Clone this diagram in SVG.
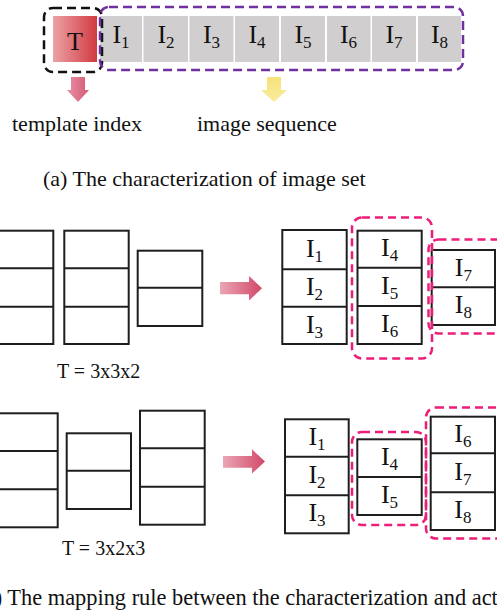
<svg xmlns="http://www.w3.org/2000/svg" width="497" height="613" viewBox="0 0 497 613" font-family="'Liberation Serif', 'Times New Roman', serif">
<defs>
<linearGradient id="gT" x1="0" y1="0" x2="1" y2="0"><stop offset="0" stop-color="#eba2a4"/><stop offset="1" stop-color="#d13a42"/></linearGradient>
<linearGradient id="gPink" x1="0" y1="0" x2="1" y2="0"><stop offset="0" stop-color="#eaa6b6"/><stop offset="1" stop-color="#d24868"/></linearGradient>
<linearGradient id="gPinkV" x1="0" y1="0" x2="1" y2="0"><stop offset="0" stop-color="#e88ea2"/><stop offset="1" stop-color="#d55a78"/></linearGradient>
<linearGradient id="gYel" x1="0" y1="0" x2="0" y2="1"><stop offset="0" stop-color="#f7e27a"/><stop offset="1" stop-color="#f9ec9c"/></linearGradient>
</defs>
<style>
text{fill:#111}
.cap{font-size:22px}
.capb{font-size:22.4px}
.lab{font-size:26px;text-anchor:middle}
.sub{font-size:17px}
.eq{font-size:20px}
.cell{fill:#d0cece}
.box{fill:#fff;stroke:#1e1e1e;stroke-width:2}
.ln{stroke:#1e1e1e;stroke-width:2}
.dk{fill:none;stroke:#111;stroke-width:2.5;stroke-dasharray:9 5}
.dp{fill:none;stroke:#7030a0;stroke-width:2.5;stroke-dasharray:9 5}
.dm{fill:none;stroke:#ec1e79;stroke-width:2.5;stroke-dasharray:8 5}
</style>

<!-- (a) characterization -->
<g id="template-cell">
<rect x="53" y="16" width="44" height="46" fill="url(#gT)"/>
<text class="lab" x="75" y="50">T</text>
</g>
<g id="image-cells">
<rect class="cell" x="100" y="16" width="42" height="46"/>
<rect class="cell" x="143.5" y="16" width="44.5" height="46"/>
<rect class="cell" x="189.5" y="16" width="44" height="46"/>
<rect class="cell" x="235" y="16" width="44" height="46"/>
<rect class="cell" x="281" y="16" width="44" height="46"/>
<rect class="cell" x="327" y="16" width="43.5" height="46"/>
<rect class="cell" x="372" y="16" width="44" height="46"/>
<rect class="cell" x="418" y="16" width="43" height="46"/>
<text class="lab" x="121" y="43">I<tspan class="sub" dy="4.5">1</tspan></text>
<text class="lab" x="166" y="43">I<tspan class="sub" dy="4.5">2</tspan></text>
<text class="lab" x="211.5" y="43">I<tspan class="sub" dy="4.5">3</tspan></text>
<text class="lab" x="257" y="43">I<tspan class="sub" dy="4.5">4</tspan></text>
<text class="lab" x="303" y="43">I<tspan class="sub" dy="4.5">5</tspan></text>
<text class="lab" x="348.5" y="43">I<tspan class="sub" dy="4.5">6</tspan></text>
<text class="lab" x="394" y="43">I<tspan class="sub" dy="4.5">7</tspan></text>
<text class="lab" x="439.5" y="43">I<tspan class="sub" dy="4.5">8</tspan></text>
</g>
<g id="frames-top">
<rect class="dk" x="44" y="8" width="58" height="64" rx="9"/>
<rect class="dp" x="100" y="7" width="363" height="63" rx="9"/>
</g>
<g id="down-arrows">
<path d="M71,77 H85 V90 H89 L78,102 L67,90 H71 Z" fill="url(#gPinkV)"/>
<path d="M267,77 H281 V90 H287 L274,102 L261,90 H267 Z" fill="url(#gYel)"/>
</g>
<g id="labels-top">
<text class="cap" x="12" y="131">template index</text>
<text class="cap" x="197" y="131">image sequence</text>
<text class="cap" x="43" y="186">(a) The characterization of image set</text>
</g>

<!-- (b) mapping, T = 3x3x2 -->
<g id="template-332">
<rect class="box" x="-11" y="230.7" width="64.3" height="113.3"/>
<line class="ln" x1="-11" y1="268.3" x2="53.3" y2="268.3"/>
<line class="ln" x1="-11" y1="306.7" x2="53.3" y2="306.7"/>
<rect class="box" x="64.3" y="230.7" width="64.4" height="113.3"/>
<line class="ln" x1="64.3" y1="268.3" x2="128.7" y2="268.3"/>
<line class="ln" x1="64.3" y1="306.7" x2="128.7" y2="306.7"/>
<rect class="box" x="137.7" y="250.7" width="64.6" height="75.3"/>
<line class="ln" x1="137.7" y1="287.7" x2="202.3" y2="287.7"/>
<text class="eq" x="57" y="378">T = 3x3x2</text>
</g>
<g id="mapped-332">
<rect class="box" x="282.3" y="230" width="64.4" height="114"/>
<line class="ln" x1="282.3" y1="269.3" x2="346.7" y2="269.3"/>
<line class="ln" x1="282.3" y1="306.7" x2="346.7" y2="306.7"/>
<rect class="box" x="357.5" y="230.7" width="64.2" height="113.3"/>
<line class="ln" x1="357.5" y1="267.7" x2="421.7" y2="267.7"/>
<line class="ln" x1="357.5" y1="306" x2="421.7" y2="306"/>
<rect class="box" x="431.7" y="250" width="63.3" height="75"/>
<line class="ln" x1="431.7" y1="287.3" x2="495" y2="287.3"/>
<text class="lab" x="314.5" y="257">I<tspan class="sub" dy="5">1</tspan></text>
<text class="lab" x="314.5" y="295">I<tspan class="sub" dy="5">2</tspan></text>
<text class="lab" x="314.5" y="332.5">I<tspan class="sub" dy="5">3</tspan></text>
<text class="lab" x="389.6" y="256">I<tspan class="sub" dy="5">4</tspan></text>
<text class="lab" x="389.6" y="294">I<tspan class="sub" dy="5">5</tspan></text>
<text class="lab" x="389.6" y="332">I<tspan class="sub" dy="5">6</tspan></text>
<text class="lab" x="463.4" y="276">I<tspan class="sub" dy="5">7</tspan></text>
<text class="lab" x="463.4" y="313">I<tspan class="sub" dy="5">8</tspan></text>
<rect class="dm" x="352" y="217.5" width="80" height="141" rx="10"/>
<rect class="dm" x="428.5" y="239.5" width="80" height="94" rx="10"/>
</g>

<!-- T = 3x2x3 -->
<g id="template-323">
<rect class="box" x="-7" y="413.3" width="64.7" height="114"/>
<line class="ln" x1="-7" y1="451" x2="57.7" y2="451"/>
<line class="ln" x1="-7" y1="489.3" x2="57.7" y2="489.3"/>
<rect class="box" x="66.7" y="433.3" width="64.3" height="75.7"/>
<line class="ln" x1="66.7" y1="470.7" x2="131" y2="470.7"/>
<rect class="box" x="140" y="410.7" width="64.7" height="114"/>
<line class="ln" x1="140" y1="448.3" x2="204.7" y2="448.3"/>
<line class="ln" x1="140" y1="486.7" x2="204.7" y2="486.7"/>
<text class="eq" x="62" y="555">T = 3x2x3</text>
</g>
<g id="mapped-323">
<rect class="box" x="285" y="419.3" width="63.7" height="114"/>
<line class="ln" x1="285" y1="456.7" x2="348.7" y2="456.7"/>
<line class="ln" x1="285" y1="495.3" x2="348.7" y2="495.3"/>
<rect class="box" x="357.3" y="439.3" width="64.4" height="75.7"/>
<line class="ln" x1="357.3" y1="477" x2="421.7" y2="477"/>
<rect class="box" x="430.7" y="416.7" width="64.3" height="113.3"/>
<line class="ln" x1="430.7" y1="453.3" x2="495" y2="453.3"/>
<line class="ln" x1="430.7" y1="492.3" x2="495" y2="492.3"/>
<text class="lab" x="317" y="445">I<tspan class="sub" dy="5">1</tspan></text>
<text class="lab" x="317" y="483">I<tspan class="sub" dy="5">2</tspan></text>
<text class="lab" x="317" y="521">I<tspan class="sub" dy="5">3</tspan></text>
<text class="lab" x="389.5" y="465">I<tspan class="sub" dy="5">4</tspan></text>
<text class="lab" x="389.5" y="503">I<tspan class="sub" dy="5">5</tspan></text>
<text class="lab" x="462.8" y="442">I<tspan class="sub" dy="5">6</tspan></text>
<text class="lab" x="462.8" y="480">I<tspan class="sub" dy="5">7</tspan></text>
<text class="lab" x="462.8" y="518">I<tspan class="sub" dy="5">8</tspan></text>
<rect class="dm" x="352" y="432" width="74" height="93" rx="10"/>
<rect class="dm" x="426" y="407.5" width="80" height="131" rx="10"/>
</g>

<g id="connectors">
<path d="M220,282 H249 V276 L262,288.2 L249,300.5 V294.3 H220 Z" fill="url(#gPink)"/>
<path d="M223,456 H252 V449.3 L265,461.5 L252,473.5 V467.7 H223 Z" fill="url(#gPink)"/>
</g>

<g id="caption-b">
<text class="capb" x="-24" y="605">(b) The mapping rule between the characterization and act</text>
</g>
</svg>
